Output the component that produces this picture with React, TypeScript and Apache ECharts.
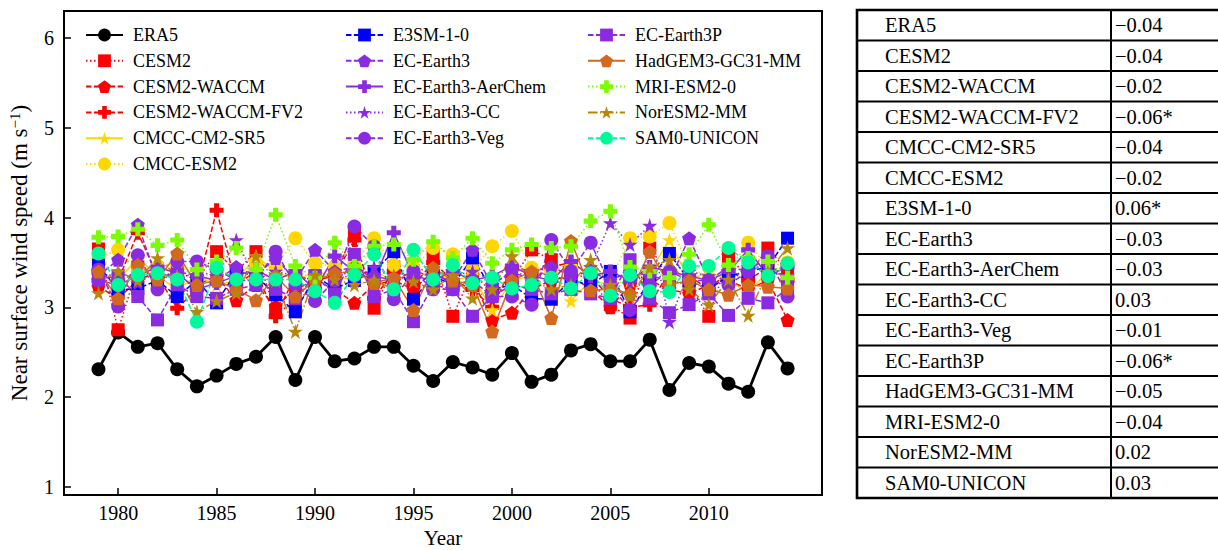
import React, { useEffect, useRef } from "react";
import * as echarts from "echarts";

const years = [1979, 1980, 1981, 1982, 1983, 1984, 1985, 1986, 1987, 1988, 1989, 1990, 1991, 1992, 1993, 1994, 1995, 1996, 1997, 1998, 1999, 2000, 2001, 2002, 2003, 2004, 2005, 2006, 2007, 2008, 2009, 2010, 2011, 2012, 2013, 2014];

const era5 = [2.31, 2.72, 2.56, 2.60, 2.31, 2.12, 2.24, 2.37, 2.45, 2.67, 2.19, 2.67, 2.40, 2.43, 2.56, 2.56, 2.35, 2.18, 2.39, 2.33, 2.25, 2.49, 2.17, 2.25, 2.52, 2.59, 2.40, 2.40, 2.64, 2.08, 2.38, 2.34, 2.15, 2.06, 2.61, 2.32];
const cesm2 = [3.65, 2.75, 3.45, 3.30, 3.40, 3.30, 3.62, 3.40, 3.62, 2.94, 3.05, 3.25, 3.40, 3.81, 2.99, 3.45, 3.30, 3.57, 2.90, 3.40, 3.15, 3.30, 3.64, 3.53, 3.40, 3.30, 3.03, 2.88, 3.66, 3.30, 3.25, 2.90, 3.55, 3.35, 3.66, 3.40];
const cesm2Waccm = [3.23, 3.10, 3.30, 3.40, 3.30, 3.25, 3.35, 3.08, 3.25, 3.01, 3.20, 3.30, 3.20, 3.05, 3.25, 3.30, 3.20, 3.40, 3.25, 3.30, 2.86, 2.94, 3.20, 3.30, 3.35, 3.20, 3.00, 3.25, 3.30, 3.20, 3.15, 3.25, 3.30, 3.20, 3.30, 2.86];
const cesm2WaccmFv2 = [3.40, 3.30, 3.83, 3.35, 2.99, 3.20, 4.08, 3.25, 3.40, 2.90, 3.35, 3.30, 3.35, 3.75, 3.10, 3.40, 3.25, 3.50, 3.30, 3.20, 3.00, 3.45, 3.40, 3.45, 3.50, 3.35, 3.10, 3.00, 3.03, 3.40, 3.35, 3.20, 3.40, 3.30, 3.45, 3.30];
const cmccCm2Sr5 = [3.40, 3.30, 3.55, 3.35, 3.20, 3.35, 3.25, 3.30, 3.57, 3.40, 3.30, 3.40, 3.35, 3.30, 3.40, 3.30, 3.35, 3.40, 3.30, 3.35, 2.97, 3.30, 3.35, 3.40, 3.07, 3.30, 3.25, 3.30, 3.40, 3.75, 3.30, 3.40, 3.30, 3.16, 3.40, 3.35];
const cmccEsm2 = [3.55, 3.64, 3.40, 3.45, 3.50, 3.30, 3.40, 3.35, 3.50, 3.45, 3.77, 3.49, 3.45, 3.50, 3.77, 3.47, 3.45, 3.66, 3.59, 3.42, 3.68, 3.85, 3.44, 3.40, 3.45, 3.40, 3.30, 3.77, 3.79, 3.94, 3.45, 3.33, 3.40, 3.72, 3.45, 3.50];
const e3sm = [3.47, 3.19, 3.21, 3.30, 3.12, 3.30, 3.05, 3.40, 3.35, 3.14, 2.95, 3.35, 3.21, 3.30, 3.40, 3.62, 3.09, 3.35, 3.25, 3.55, 3.20, 3.25, 3.10, 3.09, 3.30, 3.25, 3.40, 2.95, 3.30, 3.60, 3.30, 3.20, 3.35, 3.40, 3.45, 3.77];
const ecEarth3 = [3.35, 3.53, 3.92, 3.30, 3.40, 3.35, 3.30, 3.45, 3.35, 3.55, 3.30, 3.64, 3.40, 3.45, 3.35, 3.30, 3.40, 3.35, 3.30, 3.64, 3.25, 3.40, 3.30, 3.45, 3.35, 3.40, 3.30, 3.40, 3.35, 3.30, 3.77, 3.30, 3.45, 3.40, 3.50, 3.30];
const ecEarth3AerChem = [3.30, 3.25, 3.35, 3.45, 3.38, 3.20, 3.27, 3.35, 3.42, 3.30, 3.40, 3.20, 3.57, 3.40, 3.30, 3.83, 3.35, 3.30, 3.40, 3.30, 3.35, 3.46, 3.35, 3.30, 3.51, 3.35, 3.40, 3.30, 3.45, 3.40, 3.35, 3.30, 3.40, 3.64, 3.35, 3.45];
const ecEarth3Cc = [3.30, 3.40, 3.27, 3.40, 3.30, 3.40, 3.35, 3.75, 3.30, 3.40, 3.35, 3.30, 3.40, 3.30, 3.45, 3.35, 3.30, 3.40, 3.35, 3.40, 3.30, 3.35, 3.40, 3.35, 3.30, 3.45, 3.94, 3.70, 3.91, 2.84, 3.40, 3.35, 3.30, 3.45, 3.40, 3.35];
const ecEarth3Veg = [3.42, 3.01, 3.58, 3.20, 3.51, 3.51, 3.42, 3.30, 3.30, 3.62, 3.25, 3.07, 3.30, 3.90, 3.68, 3.09, 3.40, 3.20, 3.20, 3.30, 3.12, 3.12, 3.03, 3.75, 3.40, 3.72, 3.25, 2.97, 3.25, 3.40, 3.30, 3.30, 3.25, 3.40, 3.57, 3.12];
const ecEarth3P = [3.31, 3.35, 3.12, 2.86, 3.25, 3.12, 3.10, 3.20, 3.25, 3.20, 3.10, 3.35, 3.15, 3.59, 3.12, 3.20, 2.84, 3.25, 3.20, 2.90, 3.12, 3.25, 3.20, 3.15, 3.20, 3.15, 3.10, 3.53, 3.10, 2.94, 3.03, 3.15, 2.91, 3.10, 3.05, 3.20];
const hadgem3 = [3.40, 3.10, 3.47, 3.31, 3.60, 3.25, 3.30, 3.20, 3.08, 3.35, 3.12, 3.30, 3.38, 3.40, 3.27, 3.33, 2.97, 3.44, 3.30, 3.25, 2.73, 3.30, 3.40, 2.88, 3.74, 3.19, 3.20, 3.15, 3.62, 3.25, 3.30, 3.20, 3.14, 3.25, 3.23, 3.21];
const mriEsm2 = [3.78, 3.79, 3.87, 3.69, 3.75, 3.42, 3.51, 3.66, 3.42, 4.03, 3.46, 3.33, 3.72, 3.46, 3.68, 3.70, 3.53, 3.73, 3.55, 3.77, 3.49, 3.64, 3.70, 3.66, 3.68, 3.96, 4.07, 3.45, 3.40, 3.33, 3.59, 3.92, 3.47, 3.55, 3.51, 3.33];
const noresm2 = [3.16, 3.40, 3.30, 3.55, 3.35, 2.95, 3.07, 3.16, 3.57, 3.30, 2.73, 3.36, 3.31, 3.25, 3.30, 3.20, 3.29, 3.20, 3.36, 3.10, 3.20, 3.57, 3.30, 3.20, 3.25, 3.53, 3.25, 3.12, 3.44, 3.53, 3.20, 3.03, 3.31, 2.91, 3.40, 3.66];
const sam0 = [3.60, 3.25, 3.36, 3.38, 3.31, 2.84, 3.44, 3.31, 3.31, 3.31, 3.31, 3.18, 3.05, 3.36, 3.59, 3.20, 3.64, 3.31, 3.47, 3.27, 3.33, 3.21, 3.25, 3.33, 3.21, 3.38, 3.13, 3.36, 3.18, 3.17, 3.46, 3.46, 3.66, 3.50, 3.35, 3.49];

const xTicks = [1980, 1985, 1990, 1995, 2000, 2005, 2010];
const yTicks = [1, 2, 3, 4, 5, 6];

const tableNames = ["ERA5", "CESM2", "CESM2-WACCM", "CESM2-WACCM-FV2", "CMCC-CM2-SR5", "CMCC-ESM2", "E3SM-1-0", "EC-Earth3", "EC-Earth3-AerChem", "EC-Earth3-CC", "EC-Earth3-Veg", "EC-Earth3P", "HadGEM3-GC31-MM", "MRI-ESM2-0", "NorESM2-MM", "SAM0-UNICON"];
const tableValues = ["\u22120.04", "\u22120.04", "\u22120.02", "\u22120.06*", "\u22120.04", "\u22120.02", "0.06*", "\u22120.03", "\u22120.03", "0.03", "\u22120.01", "\u22120.06*", "\u22120.05", "\u22120.04", "0.02", "0.03"];

const FONT = "'Liberation Serif', 'Times New Roman', serif";

const PENTAGON = "path://M0,-1 L0.951,-0.309 L0.588,0.809 L-0.588,0.809 L-0.951,-0.309 Z";
const STAR = "path://M0,-1 L0.2245,-0.309 L0.951,-0.309 L0.363,0.118 L0.588,0.809 L0,0.382 L-0.588,0.809 L-0.363,0.118 L-0.951,-0.309 L-0.2245,-0.309 Z";
const PLUS = "path://M-1,-0.36 L-0.36,-0.36 L-0.36,-1 L0.36,-1 L0.36,-0.36 L1,-0.36 L1,0.36 L0.36,0.36 L0.36,1 L-0.36,1 L-0.36,0.36 L-1,0.36 Z";

const SOLID: any = "solid";
const DOT = [1.5, 2.5];
const DASH = [5.5, 2.4];
const DASHDOT = [9.6, 2.4, 1.5, 2.4];

const seriesDefs = [
  { name: "ERA5", data: era5, color: "#000000", dash: SOLID, symbol: "circle", size: 14, width: 2.8 },
  { name: "CESM2", data: cesm2, color: "#ff0000", dash: DOT, symbol: "rect", size: 13, width: 1.5 },
  { name: "CESM2-WACCM", data: cesm2Waccm, color: "#ff0000", dash: DASH, symbol: PENTAGON, size: 14, width: 1.5 },
  { name: "CESM2-WACCM-FV2", data: cesm2WaccmFv2, color: "#ff0000", dash: DASH, symbol: PLUS, size: 14, width: 1.5 },
  { name: "CMCC-CM2-SR5", data: cmccCm2Sr5, color: "#ffd700", dash: SOLID, symbol: STAR, size: 15, width: 1.5 },
  { name: "CMCC-ESM2", data: cmccEsm2, color: "#ffd700", dash: DOT, symbol: "circle", size: 14, width: 1.5 },
  { name: "E3SM-1-0", data: e3sm, color: "#0000ff", dash: DASH, symbol: "rect", size: 13, width: 1.5 },
  { name: "EC-Earth3", data: ecEarth3, color: "#8a2be2", dash: DASH, symbol: PENTAGON, size: 14, width: 1.5 },
  { name: "EC-Earth3-AerChem", data: ecEarth3AerChem, color: "#8a2be2", dash: SOLID, symbol: PLUS, size: 14, width: 1.5 },
  { name: "EC-Earth3-CC", data: ecEarth3Cc, color: "#8a2be2", dash: DOT, symbol: STAR, size: 15, width: 1.5 },
  { name: "EC-Earth3-Veg", data: ecEarth3Veg, color: "#8a2be2", dash: DASH, symbol: "circle", size: 14, width: 1.5 },
  { name: "EC-Earth3P", data: ecEarth3P, color: "#8a2be2", dash: DASH, symbol: "rect", size: 13, width: 1.5 },
  { name: "HadGEM3-GC31-MM", data: hadgem3, color: "#d2691e", dash: SOLID, symbol: PENTAGON, size: 14, width: 1.5 },
  { name: "MRI-ESM2-0", data: mriEsm2, color: "#7cfc00", dash: DOT, symbol: PLUS, size: 14, width: 1.5 },
  { name: "NorESM2-MM", data: noresm2, color: "#b8860b", dash: DASHDOT, symbol: STAR, size: 15, width: 1.5 },
  { name: "SAM0-UNICON", data: sam0, color: "#00fa9a", dash: DASH, symbol: "circle", size: 14, width: 1.5 },
];

function buildTable() {
  const left = 857;
  const right = 1221;
  const top = 10;
  const rowH = 30.5;
  const colX = 1111;
  const n = tableNames.length;
  const bottom = top + rowH * n;
  const els: any[] = [];
  for (let i = 1; i < n; i++) {
    els.push({ type: "line", shape: { x1: left, y1: top + i * rowH, x2: right, y2: top + i * rowH }, style: { stroke: "#000", lineWidth: 2 } });
  }
  els.push({ type: "line", shape: { x1: colX, y1: top, x2: colX, y2: bottom }, style: { stroke: "#000", lineWidth: 2 } });
  els.push({ type: "rect", shape: { x: left, y: top, width: right - left, height: bottom - top }, style: { fill: "none", stroke: "#000", lineWidth: 2.6 } });
  tableNames.forEach((nm, i) => {
    const cy = top + rowH * (i + 0.5);
    els.push({ type: "text", x: 885, y: cy, style: { text: nm, fill: "#000", font: `20.5px ${FONT}`, textAlign: "left", textVerticalAlign: "middle" } });
    els.push({ type: "text", x: 1115, y: cy, style: { text: tableValues[i], fill: "#000", font: `20.5px ${FONT}`, textAlign: "left", textVerticalAlign: "middle" } });
  });
  return els;
}

export default function App() {
  const ref = useRef<HTMLDivElement>(null);
  useEffect(() => {
    document.body.style.margin = "0";
    if (!ref.current) return;
    const chart = echarts.init(ref.current, null, { renderer: "svg" });
    const legendBase = {
      orient: "vertical",
      itemWidth: 37,
      itemHeight: 16,
      itemGap: 7.8,
      selectedMode: false,
      textStyle: { fontSize: 18, fontFamily: FONT, color: "#000", lineHeight: 18, padding: [0, 0, 0, 5] },
    };
    const names = seriesDefs.map((s) => s.name);
    const option: any = {
      animation: false,
      backgroundColor: "#fff",
      grid: { left: 64, top: 11, width: 758, height: 484, show: true, borderColor: "#000", borderWidth: 2, backgroundColor: "transparent", containLabel: false, outerBoundsMode: "none" },
      legend: [
        { ...legendBase, data: names.slice(0, 6), left: 80, top: 21 },
        { ...legendBase, data: names.slice(6, 11), left: 340, top: 21 },
        { ...legendBase, data: names.slice(11, 16), left: 582, top: 21 },
      ],
      xAxis: {
        type: "value",
        min: 1977.25,
        max: 2015.75,
        axisLine: { show: true, lineStyle: { color: "#000", width: 2 } },
        axisTick: { show: true, inside: true, length: 7, lineStyle: { color: "#000", width: 1.5 }, customValues: xTicks },
        axisLabel: { customValues: xTicks, formatter: (v: number) => String(v), color: "#000", fontSize: 20, fontFamily: FONT, margin: 8 },
        splitLine: { show: false },
        name: "Year",
        nameLocation: "middle",
        nameGap: 31,
        nameTextStyle: { fontSize: 21, fontFamily: FONT, color: "#000" },
      },
      yAxis: {
        type: "value",
        min: 0.91,
        max: 6.3,
        axisLine: { show: true, lineStyle: { color: "#000", width: 2 } },
        axisTick: { show: true, inside: true, length: 7, lineStyle: { color: "#000", width: 1.5 }, customValues: yTicks },
        axisLabel: { customValues: yTicks, formatter: (v: number) => String(v), color: "#000", fontSize: 20, fontFamily: FONT, margin: 10 },
        splitLine: { show: false },
        name: "Near surface wind speed (m s{sup|\u22121})",
        nameLocation: "middle",
        nameGap: 32,
        nameTextStyle: {
          fontSize: 23,
          fontFamily: FONT,
          color: "#000",
          lineHeight: 25,
          rich: { sup: { fontSize: 15, fontFamily: FONT, color: "#000", verticalAlign: "top", lineHeight: 16 } },
        },
      },
      series: seriesDefs.map((s) => ({
        name: s.name,
        type: "line",
        data: s.data.map((v, i) => [years[i], v]),
        symbol: s.symbol,
        symbolSize: s.size,
        showSymbol: true,
        itemStyle: { color: s.color },
        lineStyle: { color: s.color, width: s.width, type: s.dash },
        emphasis: { disabled: true },
      })),
      graphic: buildTable(),
    };
    chart.setOption(option);
    return () => chart.dispose();
  }, []);
  return <div ref={ref} style={{ width: 1218, height: 550 }} />;
}
